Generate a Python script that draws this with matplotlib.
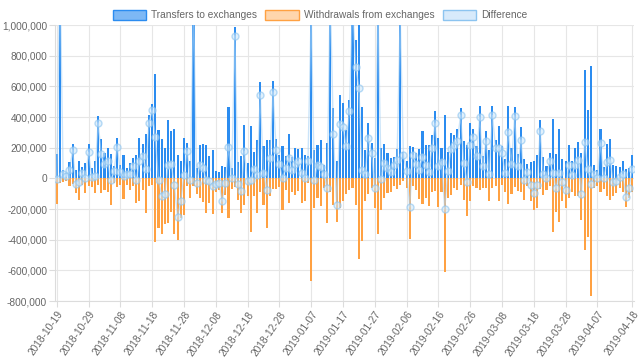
import numpy as np
import pandas as pd
import matplotlib
matplotlib.use("Agg")
import matplotlib.pyplot as plt
from matplotlib.patches import Patch
from matplotlib.ticker import FuncFormatter

plt.rcParams['font.family'] = ['Liberation Sans', 'DejaVu Sans']

# daily values (in thousands)
dates = pd.date_range('2018-10-19', '2019-04-18', freq='D')

transfers_k = [
    160, 1400, 57, 35, 105, 222, 57, 116, 75, 101,
    222, 68, 112, 404, 254, 167, 200, 160, 79, 265,
    90, 149, 68, 101, 134, 151, 261, 222, 287, 414,
    485, 682, 314, 254, 200, 382, 309, 322, 150, 112,
    261, 232, 116, 1200, 70, 217, 222, 217, 147, 182,
    50, 44, 79, 75, 463, 68, 985, 105, 145, 349,
    97, 342, 173, 252, 627, 210, 250, 248, 632, 254,
    151, 210, 145, 292, 138, 200, 193, 200, 151, 145,
    1750, 182, 215, 252, 90, 230, 1300, 458, 112, 546,
    489, 314, 511, 1200, 901, 1120, 467, 182, 364, 230,
    134, 1500, 200, 222, 167, 134, 138, 189, 1100, 173,
    112, 211, 204, 167, 189, 309, 217, 217, 283, 441,
    265, 195, 412, 173, 298, 283, 320, 458, 243, 220,
    364, 320, 211, 474, 145, 309, 182, 474, 250, 342,
    211, 127, 474, 195, 467, 160, 336, 127, 94, 108,
    112, 149, 379, 138, 79, 167, 390, 156, 320, 127,
    116, 215, 112, 200, 239, 167, 704, 445, 730, 90,
    57, 320, 72, 222, 259, 86, 79, 72, 112, 63,
    68, 149,
]

withdrawals_k = [
    167, 31, 26, 20, 53, 37, 97, 140, 42, 97,
    53, 59, 97, 42, 97, 75, 86, 173, 31, 59,
    46, 134, 42, 75, 53, 162, 151, 75, 228, 53,
    42, 415, 327, 366, 300, 294, 217, 366, 400, 261,
    239, 53, 130, 50, 100, 129, 156, 228, 162, 235,
    90, 75, 228, 108, 257, 68, 55, 140, 228, 173,
    112, 353, 112, 228, 86, 173, 327, 118, 68, 68,
    59, 206, 75, 162, 86, 108, 81, 162, 147, 31,
    667, 191, 125, 178, 64, 294, 90, 171, 283, 191,
    151, 103, 75, 64, 173, 528, 410, 151, 103, 64,
    195, 360, 206, 125, 97, 90, 53, 68, 46, 20,
    64, 397, 53, 75, 134, 169, 129, 178, 86, 81,
    184, 86, 612, 125, 108, 64, 75, 46, 140, 245,
    147, 53, 64, 75, 64, 64, 151, 64, 53, 147,
    46, 90, 169, 103, 59, 81, 86, 140, 53, 151,
    206, 191, 68, 108, 75, 53, 353, 222, 287, 151,
    191, 129, 90, 112, 118, 272, 469, 382, 765, 64,
    53, 90, 68, 118, 140, 112, 97, 64, 86, 184,
    129, 86,
]

transfers = np.array(transfers_k) * 1000
withdrawals = np.array(withdrawals_k) * 1000
difference = transfers - withdrawals

x = np.arange(len(dates))
tick_idx = list(range(0, 171, 10)) + [len(dates) - 1]
tick_labels = [dates[i].strftime('%Y-%m-%d') for i in tick_idx]

fig = plt.figure(figsize=(6.4, 3.61), dpi=100)
ax = fig.add_axes([0.0867, 0.1662, 0.9033, 0.7645])

ax.bar(x, transfers, width=0.66, color='#2b8cf0', zorder=2)
ax.bar(x, -withdrawals, width=0.66, color='#ffa142', zorder=2)
ax.plot(x, difference, color='#a9d3f5', alpha=0.6, lw=1.0, zorder=3,
        marker='o', markersize=5, markerfacecolor=(0.80, 0.90, 0.98, 0.3),
        markeredgecolor=(0.55, 0.77, 0.94, 0.75), markeredgewidth=1.0)

ax.set_ylim(-800000, 1000000)
ax.set_xlim(-0.4, len(dates) - 0.6)
ax.set_yticks(np.arange(-800000, 1000001, 200000))
ax.yaxis.set_major_formatter(FuncFormatter(lambda v, p: f'{int(v):,}'))
ax.set_xticks(tick_idx)
ax.set_xticklabels(tick_labels, rotation=55, ha='right', rotation_mode='anchor')

ax.grid(True, color='#e6e6e6', lw=0.8, zorder=0)
ax.set_axisbelow(True)
for s in ['top', 'right']:
    ax.spines[s].set_visible(False)
for s in ['left', 'bottom']:
    ax.spines[s].set_color('#dcdcdc')
ax.tick_params(axis='both', colors='#dcdcdc', labelcolor='#666666',
               labelsize=7.3, length=4, pad=2)

handles = [
    Patch(facecolor='#7db8f5', edgecolor='#2b8cf0', lw=1.0),
    Patch(facecolor='#ffd6ad', edgecolor='#ffa142', lw=1.0),
    Patch(facecolor='#d7eafb', edgecolor='#8cc4f0', lw=1.0),
]
fig.legend(handles, ['Transfers to exchanges', 'Withdrawals from exchanges', 'Difference'],
           loc='center', bbox_to_anchor=(0.5, 0.958), ncol=3, frameon=False,
           fontsize=7.3, labelcolor='#666666', handlelength=3.3, handleheight=1.1,
           handletextpad=0.5, columnspacing=0.8)

fig.savefig('out.png', dpi=100)
